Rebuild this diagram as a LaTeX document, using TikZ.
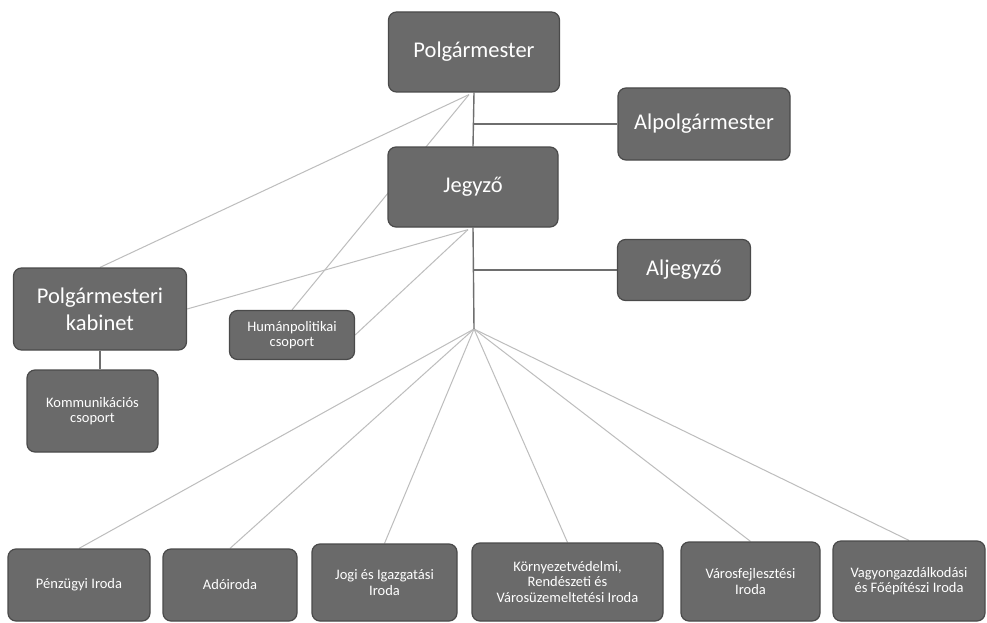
\documentclass[tikz,border=0pt]{standalone}
\usepackage{fontspec}
\setmainfont{Carlito}
\usetikzlibrary{backgrounds,calc}
\definecolor{boxfill}{HTML}{6A6A6A}
\definecolor{boxline}{HTML}{4A4A4A}
\definecolor{mainline}{HTML}{6E6E6E}
\definecolor{thinline}{HTML}{BDBDBD}
\begin{document}
\begin{tikzpicture}[x=1pt,y=-1pt,
  orgbox/.style={draw=boxline, line width=1.2pt, fill=boxfill, rounded corners=8pt, text=white, align=center, inner sep=2pt},
  big/.style={font=\fontsize{22.5}{27}\selectfont},
  small/.style={font=\fontsize{14.5}{15.5}\selectfont},
  mainconn/.style={draw=mainline, line width=1.4pt},
  thinconn/.style={draw=thinline, line width=1pt}]
\useasboundingbox (0,0) rectangle (987,623);

% top level
\node[orgbox,big,minimum width=171pt,minimum height=80pt] (pm) at (474,52) {Polgármester};
\node[orgbox,big,minimum width=172pt,minimum height=72pt] (alp) at (704,124) {Alpolgármester};
\node[orgbox,big,minimum width=170pt,minimum height=80pt] (jeg) at (473,187) {Jegyző};
\node[orgbox,big,minimum width=133pt,minimum height=61pt] (alj) at (684,270) {Aljegyző};
\node[orgbox,big,minimum width=173pt,minimum height=82pt] (kab) at (100,309) {Polgármesteri\\kabinet};
\node[orgbox,small,minimum width=125pt,minimum height=49pt] (hum) at (292,335) {Humánpolitikai\\csoport};
\node[orgbox,small,minimum width=131pt,minimum height=82pt] (kom) at (92.5,411) {Kommunikációs\\csoport};

% bottom row
\node[orgbox,small,minimum width=142pt,minimum height=72pt] (penz) at (79,585) {Pénzügyi Iroda};
\node[orgbox,small,minimum width=134pt,minimum height=72pt] (ado) at (230,585) {Adóiroda};
\node[orgbox,small,minimum width=145pt,minimum height=77pt] (jogi) at (384.5,582.5) {Jogi és Igazgatási\\Iroda};
\node[orgbox,small,minimum width=191pt,minimum height=78pt] (korny) at (567.5,582) {Környezetvédelmi,\\Rendészeti és\\Városüzemeltetési Iroda};
\node[orgbox,small,minimum width=139pt,minimum height=79pt] (varos) at (750.5,581.5) {Városfejlesztési\\Iroda};
\node[orgbox,small,minimum width=152pt,minimum height=80pt] (vagy) at (909,581) {Vagyongazdálkodási\\és Főépítészi Iroda};

\coordinate (pmfan) at ($(pm.south)+(-5,2)$);
\coordinate (jegfan) at ($(jeg.south)+(-5,2)$);
\coordinate (hub) at (474,329);

\begin{scope}[on background layer]
  \fill[white] (0,0) rectangle (987,623);
  % thin connectors
  \draw[thinconn] (pmfan) -- (kab.north);
  \draw[thinconn] (pmfan) -- (hum.north);
  \draw[thinconn] (jegfan) -- (kab.east);
  \draw[thinconn] (jegfan) -- (hum.east);
  \foreach \n in {penz,ado,jogi,korny,varos,vagy}
    \draw[thinconn] (hub) -- (\n.north);
  % main connectors
  \draw[mainconn] (pm.south) -- (jeg.north);
  \draw[mainconn] (pm.south |- alp.west) -- (alp.west);
  \draw[mainconn] (jeg.south) -- (hub);
  \draw[mainconn] (jeg.south |- alj.west) -- (alj.west);
  \draw[mainconn] (kab.south) -- (kab.south |- kom.north);
\end{scope}
\end{tikzpicture}
\end{document}
